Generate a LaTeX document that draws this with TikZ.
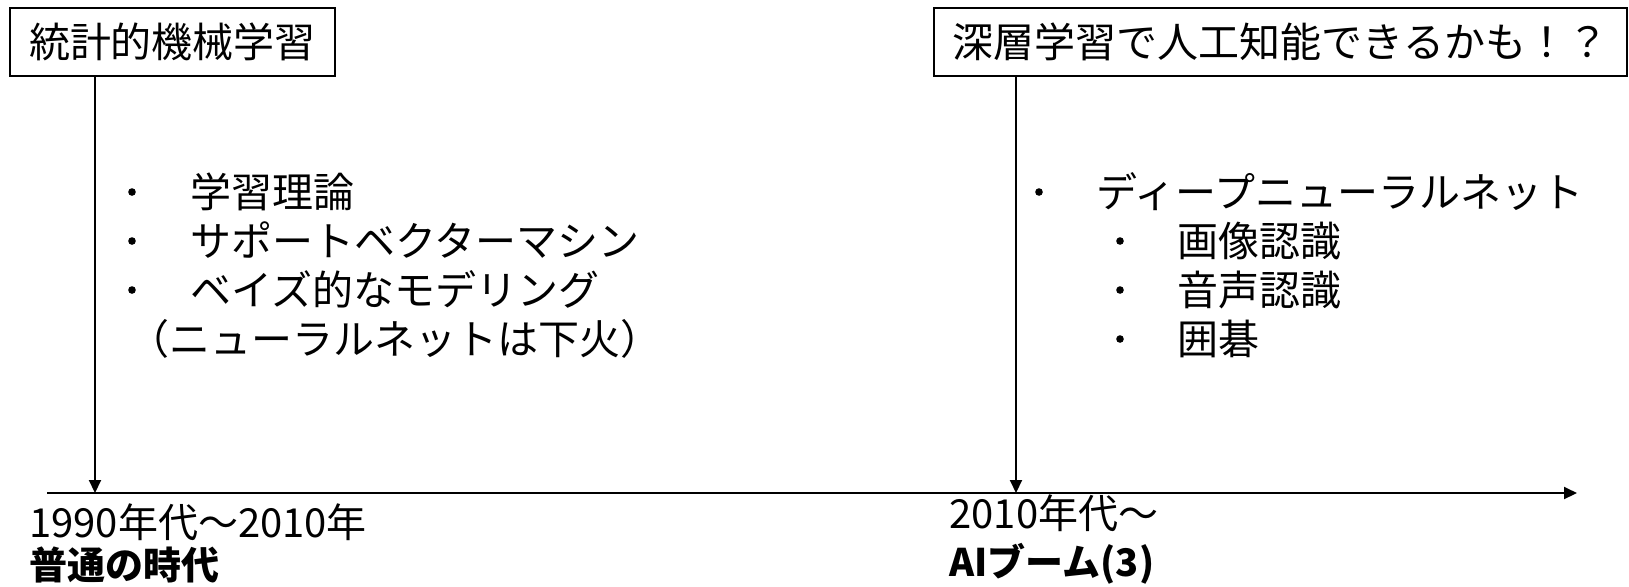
\documentclass[tikz,border=0pt]{standalone}
\usepackage{fontspec}
\setmainfont{Noto Sans CJK JP}
\usetikzlibrary{arrows.meta}
\begin{document}
\begin{tikzpicture}[x=0.5pt,y=-0.5pt,
  txt/.style={font=\fontsize{20.5pt}{24pt}\selectfont, inner sep=0pt, text height=18pt, text depth=2.5pt, anchor=west},
  lbl/.style={font=\fontsize{20pt}{24pt}\selectfont, inner sep=0pt, text height=18pt, text depth=2.5pt, anchor=west},
  blbl/.style={font=\fontsize{19pt}{23pt}\selectfont\bfseries, inner sep=0pt, text height=17pt, text depth=2.5pt, anchor=west},
  box/.style={draw, line width=1pt, font=\fontsize{20.5pt}{24pt}\selectfont, inner sep=0pt, text height=18pt, text depth=2.5pt, minimum height=34pt},
  dot/.style={circle, fill, inner sep=0pt, minimum size=3.8pt},
  conn/.style={line width=1pt, -{Triangle[length=6.5pt,width=6pt]}},
]
\useasboundingbox (0,0) rectangle (1629,586);
\node[box, minimum width=162.5pt] (lbox) at (172.5,42) {統計的機械学習};
\node[box, minimum width=346.5pt] (rbox) at (1280.5,42) {深層学習で人工知能できるかも！？};

\coordinate (t0) at (47,493);
\coordinate (tend) at (1577,493);
\coordinate (m1) at (95,493);
\coordinate (m2) at (1016,493);
\draw[conn] (t0) -- (tend);
\draw[conn] (lbox.south -| m1) -- (m1);
\draw[conn] (rbox.south -| m2) -- (m2);

% left list
\node[dot] (lb1) at (132,192) {};
\node[txt] (l1) at (190,192) {学習理論};
\node[dot] (lb2) at (132,241) {};
\node[txt] (l2) at (190,241) {サポートベクターマシン};
\node[dot] (lb3) at (132,290) {};
\node[txt] (l3) at (190,290) {ベイズ的なモデリング};
\node[txt] (l4) at (128,339) {（ニューラルネットは下火）};

% right list
\node[dot] (rb1) at (1039,192) {};
\node[txt] (r1) at (1096,192) {ディープニューラルネット};
\node[dot] (rb2) at (1120,241) {};
\node[txt] (r2) at (1177,241) {画像認識};
\node[dot] (rb3) at (1120,290) {};
\node[txt] (r3) at (1177,290) {音声認識};
\node[dot] (rb4) at (1120,339) {};
\node[txt] (r4) at (1177,339) {囲碁};

% bottom labels
\node[lbl] (d1) at (29,522) {1990年代〜2010年};
\node[blbl] (e1) at (29,565) {普通の時代};
\node[lbl] (d2) at (949,513) {2010年代〜};
\node[blbl] (e2) at (949,562) {AIブーム(3)};
\end{tikzpicture}
\end{document}
